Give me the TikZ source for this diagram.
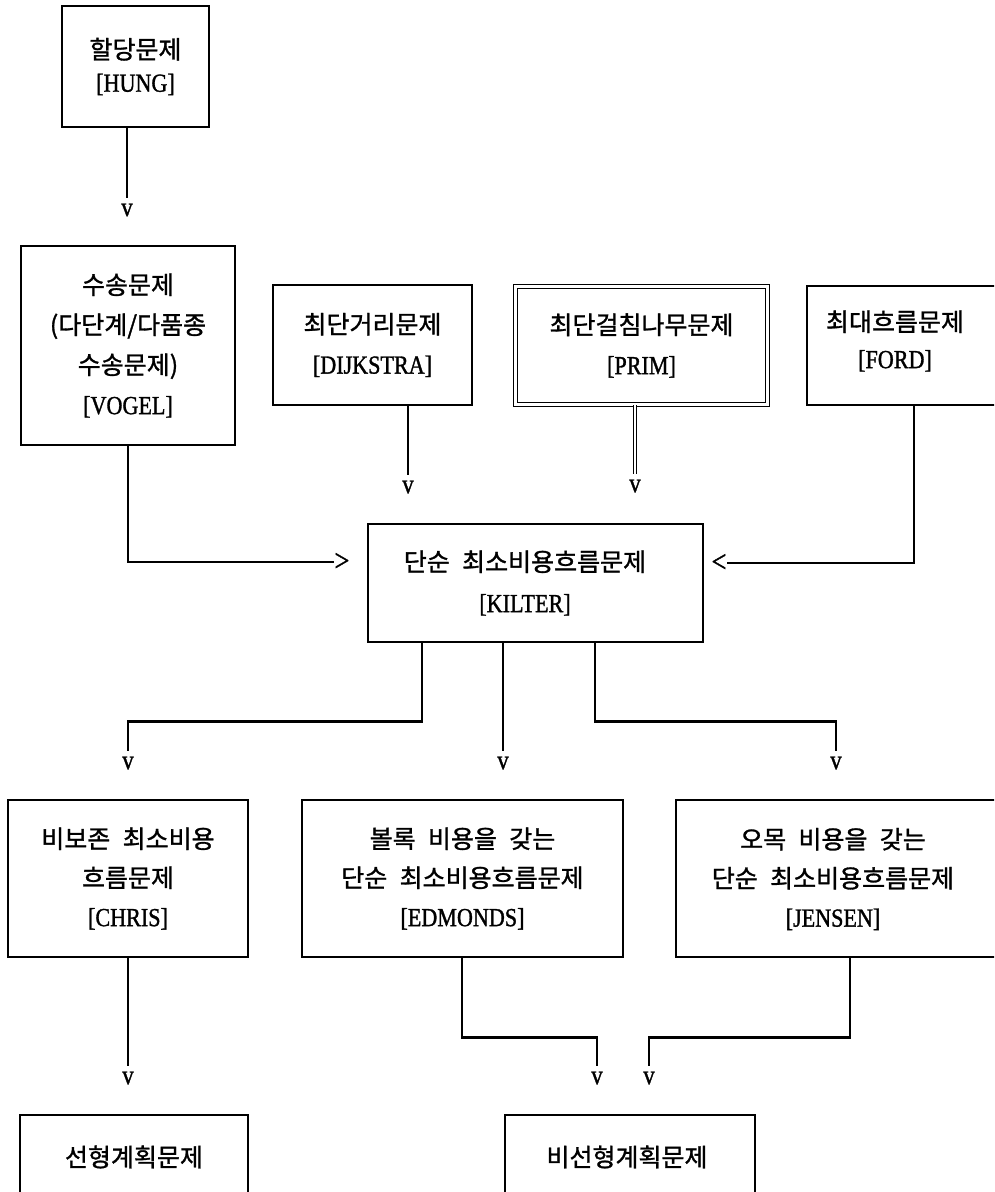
\documentclass[tikz,border=0pt]{standalone}
\usepackage{fontspec}
\setmainfont{Noto Sans CJK KR}[WordSpace=2.2,FakeBold=1.2]
\newfontfamily\lat{Liberation Serif}[FakeStretch=0.85,FakeBold=1.2]
\usetikzlibrary{calc}
\newcommand\LA[1]{{\lat\fontsize{26}{40}\selectfont #1}}
\tikzset{
  box/.style={draw, line width=2.5pt, rectangle, inner sep=0pt, align=center, font=\fontsize{25}{40}\selectfont},
  dbox/.style={box, double, double distance=2.5pt, line width=1.1pt},
  lbl/.style={align=center, inner sep=0pt, font=\fontsize{25}{40}\selectfont},
  tip/.style={font=\lat\fontsize{27}{27}\selectfont, inner sep=0pt, outer sep=6pt},
  side/.style={font=\lat\fontsize{31}{31}\selectfont, inner sep=0pt},
  link/.style={line width=2.5pt},
  dlink/.style={double, double distance=2.5pt, line width=1.1pt}
}
\begin{document}
\begin{tikzpicture}[x=1pt,y=-1pt]
\useasboundingbox (0,0) rectangle (994,1192);
\fill[white] (0,0) rectangle (994,1192);
\clip (0,0) rectangle (994,1192);
% top
\node[box, minimum width=147, minimum height=121, font=\fontsize{25}{33}\selectfont] (hung) at (135.5,66.5) {할당문제\\\LA{[HUNG]}};
\node[tip] (v1) at (127,210) {v};
\draw[link] (hung.south -| v1) -- (v1.north);
% second row
\node[box, minimum width=214, minimum height=199] (vogel) at (128,345.5) {수송문제\\(다단계/다품종\\수송문제)\\\LA{[VOGEL]}};
\node[box, minimum width=199, minimum height=120] (dijk) at (372.5,345) {최단거리문제\\\LA{[DIJKSTRA]}};
\node[dbox, minimum width=252, minimum height=118] (prim) at (641.5,345.5) {최단걸침나무문제\\\LA{[PRIM]}};
\node[box, minimum width=193, minimum height=119] (ford) at (903.5,345.5) {};
\node[lbl, font=\fontsize{25}{37}\selectfont] (fordT) at (895,341) {최대흐름문제\\\LA{[FORD]}};
\node[tip] (vD) at (408,487) {v};
\node[tip] (vP) at (635,486) {v};
\draw[link] (dijk.south -| vD) -- (vD.north);
\draw[dlink] (prim.south -| vP) -- (vP.north);
% centre
\node[box, minimum width=335, minimum height=118] (kilter) at (535.5,583) {};
\node[lbl, font=\fontsize{25}{41}\selectfont] (kilterT) at (525,583) {단순 최소비용흐름문제\\\LA{[KILTER]}};
\node[side] (a1) at (342,562) {>};
\node[side] (a2) at (719,563) {<};
\draw[link] (vogel.south) |- (a1.west);
\draw[link] ($(ford.south west)+(108,0)$) |- (a2.east);
\node[tip] (vC) at (128,763) {v};
\node[tip] (vE) at (503,763) {v};
\node[tip] (vJ) at (836,763) {v};
\draw[link] ($(kilter.south west)+(55,0)$) -- ++(0,78) -| (vC.north);
\draw[link] (kilter.south -| vE) -- (vE.north);
\draw[link] ($(kilter.south west)+(228,0)$) -- ++(0,78) -| (vJ.north);
% third row
\node[box, minimum width=240, minimum height=157, font=\fontsize{25}{39}\selectfont] (chris) at (128,878.5) {비보존 최소비용\\흐름문제\\\LA{[CHRIS]}};
\node[box, minimum width=321, minimum height=157, font=\fontsize{25}{39}\selectfont] (edm) at (462.5,878.5) {볼록 비용을 갖는\\단순 최소비용흐름문제\\\LA{[EDMONDS]}};
\node[box, minimum width=334, minimum height=157] (jen) at (843,878.5) {};
\node[lbl, font=\fontsize{25}{39}\selectfont] (jenT) at (833,879) {오목 비용을 갖는\\단순 최소비용흐름문제\\\LA{[JENSEN]}};
\node[tip] (vL) at (128,1078) {v};
\node[tip] (vN1) at (597,1078) {v};
\node[tip] (vN2) at (649,1078) {v};
\draw[link] (chris.south) -- (vL.north);
\draw[link] ($(edm.south west)+(161,0)$) -- ++(0,79) -| (vN1.north);
\draw[link] ($(jen.south west)+(175,0)$) -- ++(0,79) -| (vN2.north);
% bottom row
\node[box, minimum width=228, minimum height=115] (lin) at (134,1172.5) {};
\node[lbl] (linT) at (134,1157) {선형계획문제};
\node[box, minimum width=250, minimum height=115] (nonlin) at (630,1172.5) {};
\node[lbl] (nonlinT) at (627,1157) {비선형계획문제};
\end{tikzpicture}
\end{document}
